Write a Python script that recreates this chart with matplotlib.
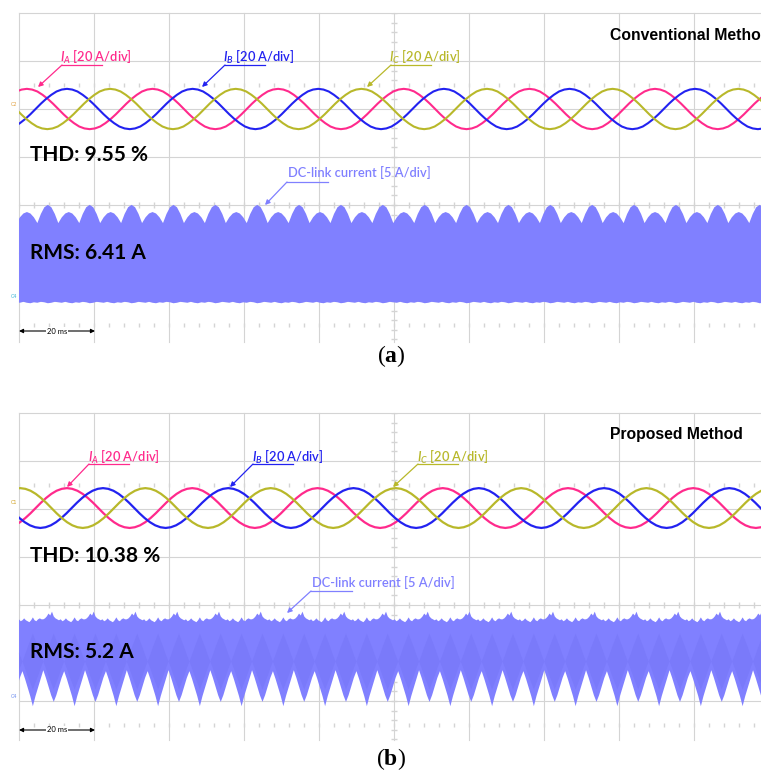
import numpy as np
import matplotlib.pyplot as plt
from matplotlib.lines import Line2D

W, H = 761, 776

# scope settings
ms_per_div = 20
phase_per_div = 20      # A/div
dc_per_div = 5          # A/div

phase_labels = ['$I_A$ [20 A/div]', '$I_B$ [20 A/div]', '$I_C$ [20 A/div]']

# (a) conventional method
period_a = 33.5                     # ms, fundamental period
peaks_a = [2.1, 12.8, 24.3]         # first positive peak of IA, IB, IC (ms)
# one cycle of phase current, from its positive peak (A)
cycle_a = [8.4, 8.1, 7.3, 5.9, 4.2, 2.2, 0.0, -2.2, -4.2, -5.9, -7.3, -8.1,
           -8.4, -8.1, -7.3, -5.9, -4.2, -2.2, 0.0, 2.2, 4.2, 5.9, 7.3, 8.1]
# dc-link envelope over a third of a cycle, starting at a valley (A)
dc_start_a = 4.9
dc_top_a = [7.7, 8.65, 9.35, 9.6, 9.35, 8.65, 7.7, 8.3, 8.7, 8.85, 8.7, 8.3]
dc_low_a = [-0.6, -0.5, -0.55, -0.65, -0.6, -0.5, -0.55, -0.6, -0.5, -0.6, -0.65, -0.55]
thd_a = 9.55
rms_a = 6.41

# (b) proposed method
period_b = 33.4
peaks_b = [12.8, 22.4, 0.3]
cycle_b = [8.3, 8.0, 7.2, 5.9, 4.2, 2.2, 0.0, -2.2, -4.2, -5.9, -7.2, -8.0,
           -8.3, -8.0, -7.2, -5.9, -4.2, -2.2, 0.0, 2.2, 4.2, 5.9, 7.2, 8.0]
# lower edge (notches) over a third of a cycle, starting at a notch apex (A)
dc_start_b = 6.48
dc_low_b = [3.0, 2.2, 1.3, 0.4, -0.3, 0.4, 1.3, 2.2,
            2.9, 2.1, 1.2, 0.3, -0.75, 0.3, 1.2, 2.1]
dc_top_b = [8.3, 8.4, 8.6, 8.9, 8.7, 9.1, 8.6, 8.4, 8.3, 8.2, 8.3, 8.1,
            8.2, 8.4, 8.2, 8.1, 8.0, 8.2, 8.5, 8.2, 8.1, 8.3, 8.4, 8.3]
# darker overlap pattern inside the band, same timing as the notches
dc_shade_hi_b = [3.9, 4.6, 5.4, 6.1, 6.8, 6.1, 5.4, 4.6]
dc_shade_lo_b = [3.9, 3.2, 2.4, 1.7, 1.0, 1.7, 2.4, 3.2]
thd_b = 10.38
rms_b = 5.2

colors = ['#ff2a8c', '#2222f0', '#b8b82a']
dc_color = '#8080ff'
grid_c = '#d4d4d4'

plt.rcParams['mathtext.fontset'] = 'custom'
plt.rcParams['mathtext.it'] = 'Lato:italic:semibold'
plt.rcParams['mathtext.rm'] = 'Liberation Serif'
plt.rcParams['mathtext.bf'] = 'Liberation Serif:bold'

fig = plt.figure(figsize=(W / 100, H / 100), dpi=100)


def tile(cycle, span, start, t_end=215.0):
    n = len(cycle)
    while start > -span:
        start -= span
    m = int((t_end - start) / span * n) + 2
    k = np.arange(m)
    return start + k * span / n, np.asarray(cycle)[k % n]


def panel(top, bot, center):
    ax = fig.add_axes([19 / W, 1 - bot / H, 750 / W, (bot - top) / H])
    ax.set_xlim(0, 200)
    ax.set_ylim(-(bot - center) / 48, (center - top) / 48)
    ax.axis('off')
    y0, y1 = ax.get_ylim()
    for x in range(0, 201, ms_per_div):
        ax.axvline(x, color=grid_c, lw=0.8, clip_on=False, zorder=0)
    for d in range(int(np.ceil(y0)), 5):
        ax.axhline(d, color=grid_c, lw=0.8, clip_on=False, zorder=0)
    tx = np.arange(0, 201, 4)
    ax.plot(tx, np.zeros_like(tx), ls='none', marker='|', ms=4, color=grid_c, zorder=0)
    for yy in (2.5, -2.5):
        ax.plot(tx, np.full(len(tx), yy), ls='none', marker='|', ms=2.5, color=grid_c, zorder=0)
    ty = np.arange(np.ceil(y0 * 5) / 5, 4.01, 0.2)
    ax.plot(np.full(len(ty), 100), ty, ls='none', marker='_', ms=4, color=grid_c, zorder=0)
    return ax


def phases(ax, cycle, period, peaks, offset, lw):
    for p, c in zip(peaks, colors):
        t, v = tile(cycle, period, p)
        ax.plot(t, offset + v / phase_per_div, color=c, lw=lw, zorder=3)


def ftext(x, y, s, **kw):
    kw.setdefault('va', 'center')
    fig.text(x / W, 1 - y / H, s, **kw)


def leader(x0, x1, yu, tip, color):
    fig.add_artist(Line2D([x0 / W, x1 / W], [1 - yu / H] * 2, color=color, lw=0.9))
    fig.add_artist(plt.Annotation('', xy=(tip[0], H - tip[1]), xycoords='figure pixels',
                                  xytext=(x0, H - yu), textcoords='figure pixels',
                                  arrowprops=dict(arrowstyle='-|>', color=color, lw=0.9,
                                                  mutation_scale=7, shrinkA=0, shrinkB=0)))


def scalebar(y):
    fig.add_artist(plt.Annotation('', xy=(95, H - y), xycoords='figure pixels',
                                  xytext=(19, H - y), textcoords='figure pixels',
                                  arrowprops=dict(arrowstyle='<|-|>', color='black', lw=0.8,
                                                  mutation_scale=6, shrinkA=0, shrinkB=0)))
    ftext(57, y, '20 ms', ha='center', fontsize=5.5, family='Lato',
          bbox=dict(fc='white', ec='none', pad=0.6))


lab_font = dict(family='Lato', fontsize=9.3, weight='semibold')
big_font = dict(family='Lato', fontsize=15, weight='bold')
meth_font = dict(family='Liberation Sans', fontsize=11.3, weight='bold')

# ---------------- (a)
ax = panel(13, 342, 205)
dc0 = (205 - 297) / 48
t_up, v_up = tile(dc_top_a, period_a / 3, dc_start_a)
t_lo, v_lo = tile(dc_low_a, period_a / 3, dc_start_a)
ax.fill(np.r_[t_up, t_lo[::-1]], dc0 + np.r_[v_up, v_lo[::-1]] / dc_per_div,
        color=dc_color, lw=0, zorder=2)
phases(ax, cycle_a, period_a, peaks_a, 2.0, 1.5)

for (x, tip), s, c in zip([(60, (38, 87)), (223, (202, 87)), (389, (367, 87))], phase_labels, colors):
    ftext(x, 57, s, color=c, **lab_font)
    leader(x + 2, x + 42, 65, tip, c)
ftext(610, 36, 'Conventional Method', color='black', **meth_font)
ftext(30, 155, f'THD: {thd_a} %', color='black', **big_font)
ftext(288, 173, 'DC-link current [5 A/div]', color=dc_color, **lab_font)
leader(287, 328, 182, (265, 205), dc_color)
ftext(30, 253, f'RMS: {rms_a} A', color='black', **big_font)
scalebar(331)
ftext(14, 105, 'C2', color='#e0a040', fontsize=3.5, ha='center')
ftext(14, 297, 'C4', color='#40b8d8', fontsize=3.5, ha='center')
ftext(391, 356, r'$\mathrm{(}\mathbf{a}\mathrm{)}$', fontsize=17, ha='center')

# ---------------- (b)
ax = panel(413, 740, 605)
dc0 = (605 - 699) / 48
t_up, v_up = tile(dc_top_b, period_b / 3, dc_start_b)
t_lo, v_lo = tile(dc_low_b, period_b / 3, dc_start_b)
ax.fill(np.r_[t_up, t_lo[::-1]], dc0 + np.r_[v_up, v_lo[::-1]] / dc_per_div,
        color=dc_color, lw=0, zorder=2)
t_hi, v_hi = tile(dc_shade_hi_b, period_b / 6, dc_start_b)
t_sl, v_sl = tile(dc_shade_lo_b, period_b / 6, dc_start_b)
ax.fill(np.r_[t_hi, t_sl[::-1]], dc0 + np.r_[v_hi, v_sl[::-1]] / dc_per_div,
        color='#7a7afa', lw=0, zorder=2)
phases(ax, cycle_b, period_b, peaks_b, 2.02, 1.6)

for (x, tip), s, c in zip([(88, (67, 487)), (252, (230, 487)), (417, (393, 487))], phase_labels, colors):
    ftext(x, 457, s, color=c, **lab_font)
    leader(x + 1, x + 41, 464, tip, c)
ftext(610, 435, 'Proposed Method', color='black', **meth_font)
ftext(30, 556, f'THD: {thd_b} %', color='black', **big_font)
ftext(312, 583, 'DC-link current [5 A/div]', color=dc_color, **lab_font)
leader(311, 352, 591, (287, 613), dc_color)
ftext(30, 652, f'RMS: {rms_b} A', color='black', **big_font)
scalebar(730)
ftext(14, 503, 'C1', color='#d0a020', fontsize=3.5, ha='center')
ftext(14, 697, 'C4', color='#6f8ff0', fontsize=3.5, ha='center')
ftext(391, 759, r'$\mathrm{(}\mathbf{b}\mathrm{)}$', fontsize=17, ha='center')

fig.savefig('out.png', dpi=100)
